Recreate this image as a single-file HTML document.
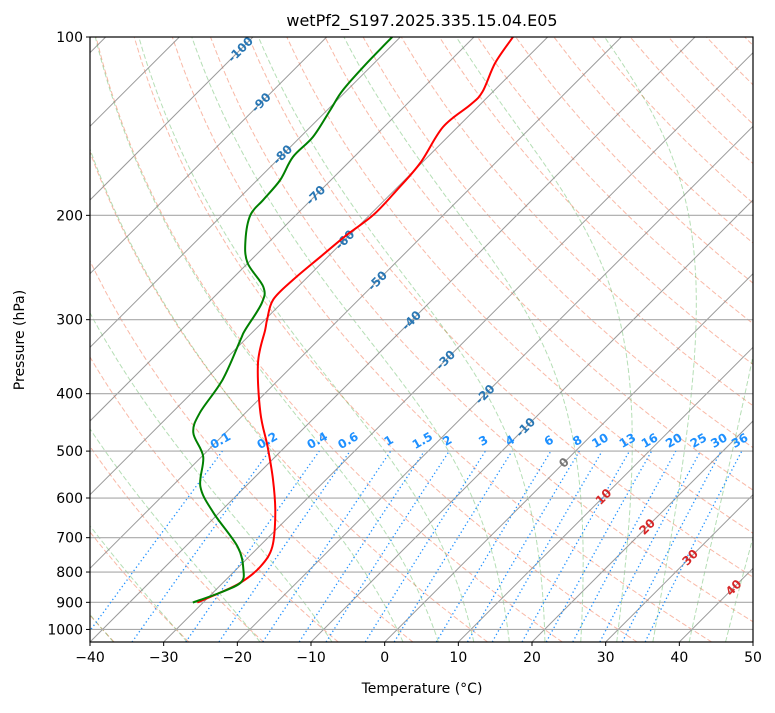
<!DOCTYPE html>
<html><head><meta charset="utf-8"><style>
body{margin:0;background:#fff}
svg text{font-family:"DejaVu Sans","Liberation Sans",sans-serif}
</style></head><body>
<svg id="chart" width="775" height="708" xmlns="http://www.w3.org/2000/svg">
<defs><clipPath id="pc"><rect x="90" y="37" width="663" height="605"/></clipPath></defs>
<rect x="0" y="0" width="775" height="708" fill="#fff"/>
<text x="422" y="26" font-size="16" text-anchor="middle">wetPf2_S197.2025.335.15.04.E05</text>
<g id="bg" clip-path="url(#pc)"></g>
<g id="lbl"></g>
<g id="prof" clip-path="url(#pc)"></g>
<rect x="90" y="37" width="663" height="605" fill="none" stroke="#000" stroke-width="1.2"/>
<g id="axes"></g>
<text x="422" y="693" font-size="14" text-anchor="middle">Temperature (°C)</text>
<text transform="translate(24,340) rotate(-90)" font-size="14" text-anchor="middle">Pressure (hPa)</text>
</svg>
<script>
const tempPressure=[100,110.6,123.8,130.2,141.8,163.1,181.1,199.6,215.7,234.9,256.9,277.7,300.1,312,354.7,430.7,491.5,558.6,635.2,724.9,783.3,833.3,866.3,900.6];
const tempValues=[-64.7,-63.6,-61.4,-61.3,-62.0,-60.2,-59.7,-59.5,-60.4,-61.0,-61.6,-61.6,-59.7,-58.6,-55.1,-48.0,-42.4,-37.2,-32.4,-28.2,-27.1,-27.6,-29.0,-30.8];
const dewPressure=[100,110.6,122.9,132.8,147.5,159.4,174.3,188.3,199.6,219.9,240.5,264,281,312,324.4,378.9,430.7,465.4,510.9,574.2,635.2,724.9,792.5,833.3,866.3,900.6];
const dewValues=[-81.1,-81.0,-80.6,-79.6,-78.3,-78.3,-76.9,-76.5,-76.2,-73.5,-70.1,-64.7,-62.7,-61.3,-60.6,-57.6,-56.2,-54.4,-49.8,-46.1,-40.8,-32.9,-29.0,-27.6,-29.0,-31.4];
const pressureTicks=[100,200,300,400,500,600,700,800,900,1000];
const tempTicks=[-40,-30,-20,-10,0,10,20,30,40,50];
const mixingRatios=[0.1,0.2,0.4,0.6,1,1.5,2,3,4,6,8,10,13,16,20,25,30,36];
const mixingLabels=["0.1","0.2","0.4","0.6","1","1.5","2","3","4","6","8","10","13","16","20","25","30","36"];
const isoLabelTemps=[-100,-90,-80,-70,-60,-50,-40,-30,-20,-10,0,10,20,30,40];
const isoLabelPress=[105,129,158,185,220,258,301,351,401,456,523,597,671,756,850];

const NS="http://www.w3.org/2000/svg";
const X0=90,X1=753,Y0=37,Y1=642,TMIN=-40,TMAX=50,PTOP=100,PBOT=1050;
const kx=(X1-X0)/(TMAX-TMIN), ky=(Y1-Y0)/Math.log(PBOT/PTOP);
function yOf(p){return Y0+ky*Math.log(p/PTOP);}
function xOf(T,p){return X0+(T-TMIN)*kx+(Y1-yOf(p));}
function mk(tag,attrs,parent){const e=document.createElementNS(NS,tag);for(const k in attrs)e.setAttribute(k,attrs[k]);parent.appendChild(e);return e;}
function pathD(pts){return pts.map((q,i)=>(i?'L':'M')+q[0].toFixed(1)+' '+q[1].toFixed(1)).join('');}
function smoothD(pts){
  let d='M'+pts[0][0].toFixed(1)+' '+pts[0][1].toFixed(1);
  for(let i=0;i<pts.length-1;i++){
    const p0=pts[Math.max(0,i-1)],p1=pts[i],p2=pts[i+1],p3=pts[Math.min(pts.length-1,i+2)];
    const c1=[p1[0]+(p2[0]-p0[0])/6,p1[1]+(p2[1]-p0[1])/6],c2=[p2[0]-(p3[0]-p1[0])/6,p2[1]-(p3[1]-p1[1])/6];
    d+='C'+c1[0].toFixed(1)+' '+c1[1].toFixed(1)+' '+c2[0].toFixed(1)+' '+c2[1].toFixed(1)+' '+p2[0].toFixed(1)+' '+p2[1].toFixed(1);
  }
  return d;
}
const bg=document.getElementById('bg'),lbl=document.getElementById('lbl'),prof=document.getElementById('prof'),axes=document.getElementById('axes');
const plevels=[];for(let p=PBOT;p>=PTOP-0.01;p-=10)plevels.push(p);

for(let t0=-40;t0<=250;t0+=10){
  const pts=plevels.map(p=>[xOf((t0+273.15)*Math.pow(p/1000,0.2857)-273.15,p),yOf(p)]);
  const e=mk('path',{d:pathD(pts),fill:'none',stroke:'#f4734f','stroke-opacity':'0.5','stroke-width':'1','stroke-dasharray':'5,2.5'},bg);
  
  
}
function es(Tc){return 6.112*Math.exp(17.67*Tc/(Tc+243.5));}
function dTdp(T,p){const Tc=T-273.15,e=es(Tc),rs=0.622*e/(p-e);return (287.04*T+2.501e6*rs)/(1005.7+2.501e6*2.501e6*rs*0.622/(287.04*T*T))/p;}
function moist(t0){
  let T=t0+273.15,p=1000;
  const step=(dp)=>{const k1=dTdp(T,p),k2=dTdp(T+k1*dp/2,p+dp/2),k3=dTdp(T+k2*dp/2,p+dp/2),k4=dTdp(T+k3*dp,p+dp);T+=dp*(k1+2*k2+2*k3+k4)/6;p+=dp;};
  const up=[[1000,T]];while(p>PTOP+0.01){step(-5);up.push([p,T]);}
  T=t0+273.15;p=1000;const dn=[];while(p<PBOT-0.01){step(5);dn.push([p,T]);}
  return dn.reverse().concat(up);
}
const moistStarts=[-40,-30,-20,-10];for(let t=0;t<=100;t+=5)moistStarts.push(t);
for(const t0 of moistStarts){
  const pts=moist(t0).map(q=>[xOf(q[1]-273.15,q[0]),yOf(q[0])]);
  const e=mk('path',{d:pathD(pts),fill:'none',stroke:'#2ca02c','stroke-opacity':'0.35','stroke-width':'1','stroke-dasharray':'5,2.5'},bg);
  
  
}
for(let t=-150;t<=50;t+=10){
  const e=mk('line',{x1:xOf(t,PBOT),y1:yOf(PBOT),x2:xOf(t,PTOP),y2:yOf(PTOP),stroke:'#888','stroke-opacity':'0.85','stroke-width':'1'},bg);
  
  
}
for(const p of pressureTicks){
  const e=mk('line',{x1:X0,y1:yOf(p),x2:X1,y2:yOf(p),stroke:'#a8a8a8','stroke-width':'1.1'},bg);
  
  
}
function tdFromW(w,p){const e=p*w/(622+w);const l=Math.log(e/6.112);return 243.5*l/(17.67-l);}
mixingRatios.forEach((w,i)=>{
  const pts=[];for(let p=PBOT;p>=500;p-=10)pts.push([xOf(tdFromW(w,p),p),yOf(p)]);
  const e=mk('path',{d:pathD(pts),fill:'none',stroke:'#1e90ff','stroke-width':'1.3','stroke-dasharray':'1.3,2.7'},bg);
  
  
  const x=xOf(tdFromW(w,500),500),y=yOf(500)-7;
  const t=mk('text',{x:x,y:y,'font-size':'12','font-weight':'bold',fill:'#1e90ff','text-anchor':'middle',transform:`rotate(-30 ${x} ${y})`},lbl);
  t.textContent=mixingLabels[i];
  
  
});
isoLabelTemps.forEach((t,i)=>{
  const p=isoLabelPress[i],x=xOf(t,p),y=yOf(p)+4;
  const col=t<0?'#2a77b4':(t===0?'#777':'#d62728');
  const e=mk('text',{x:x,y:y,'font-size':'12','font-weight':'bold',fill:col,'text-anchor':'middle',transform:`rotate(-45 ${x} ${y-4})`},lbl);
  e.textContent=String(t);
  
  
});
const tp=mk('path',{d:smoothD(tempPressure.map((p,i)=>[xOf(tempValues[i],p),yOf(p)])),fill:'none',stroke:'#ff0000','stroke-width':'2','stroke-linejoin':'round'},prof);


const dp=mk('path',{d:smoothD(dewPressure.map((p,i)=>[xOf(dewValues[i],p),yOf(p)])),fill:'none',stroke:'#008000','stroke-width':'2','stroke-linejoin':'round'},prof);


for(const p of pressureTicks){
  const y=yOf(p);
  const l=mk('line',{x1:X0-4,y1:y,x2:X0,y2:y,stroke:'#000','stroke-width':'1'},axes);
  
  
  const t=mk('text',{x:X0-7,y:y+5,'font-size':'14','text-anchor':'end'},axes);
  t.textContent=String(p);
  
  
}
for(const T of tempTicks){
  const x=X0+(T-TMIN)*kx;
  const l=mk('line',{x1:x,y1:Y1,x2:x,y2:Y1+4,stroke:'#000','stroke-width':'1'},axes);
  
  
  const t=mk('text',{x:x,y:Y1+20,'font-size':'14','text-anchor':'middle'},axes);
  t.textContent=(T<0?'\u2212'+Math.abs(T):String(T));
  
  
}
</script>
</body></html>
